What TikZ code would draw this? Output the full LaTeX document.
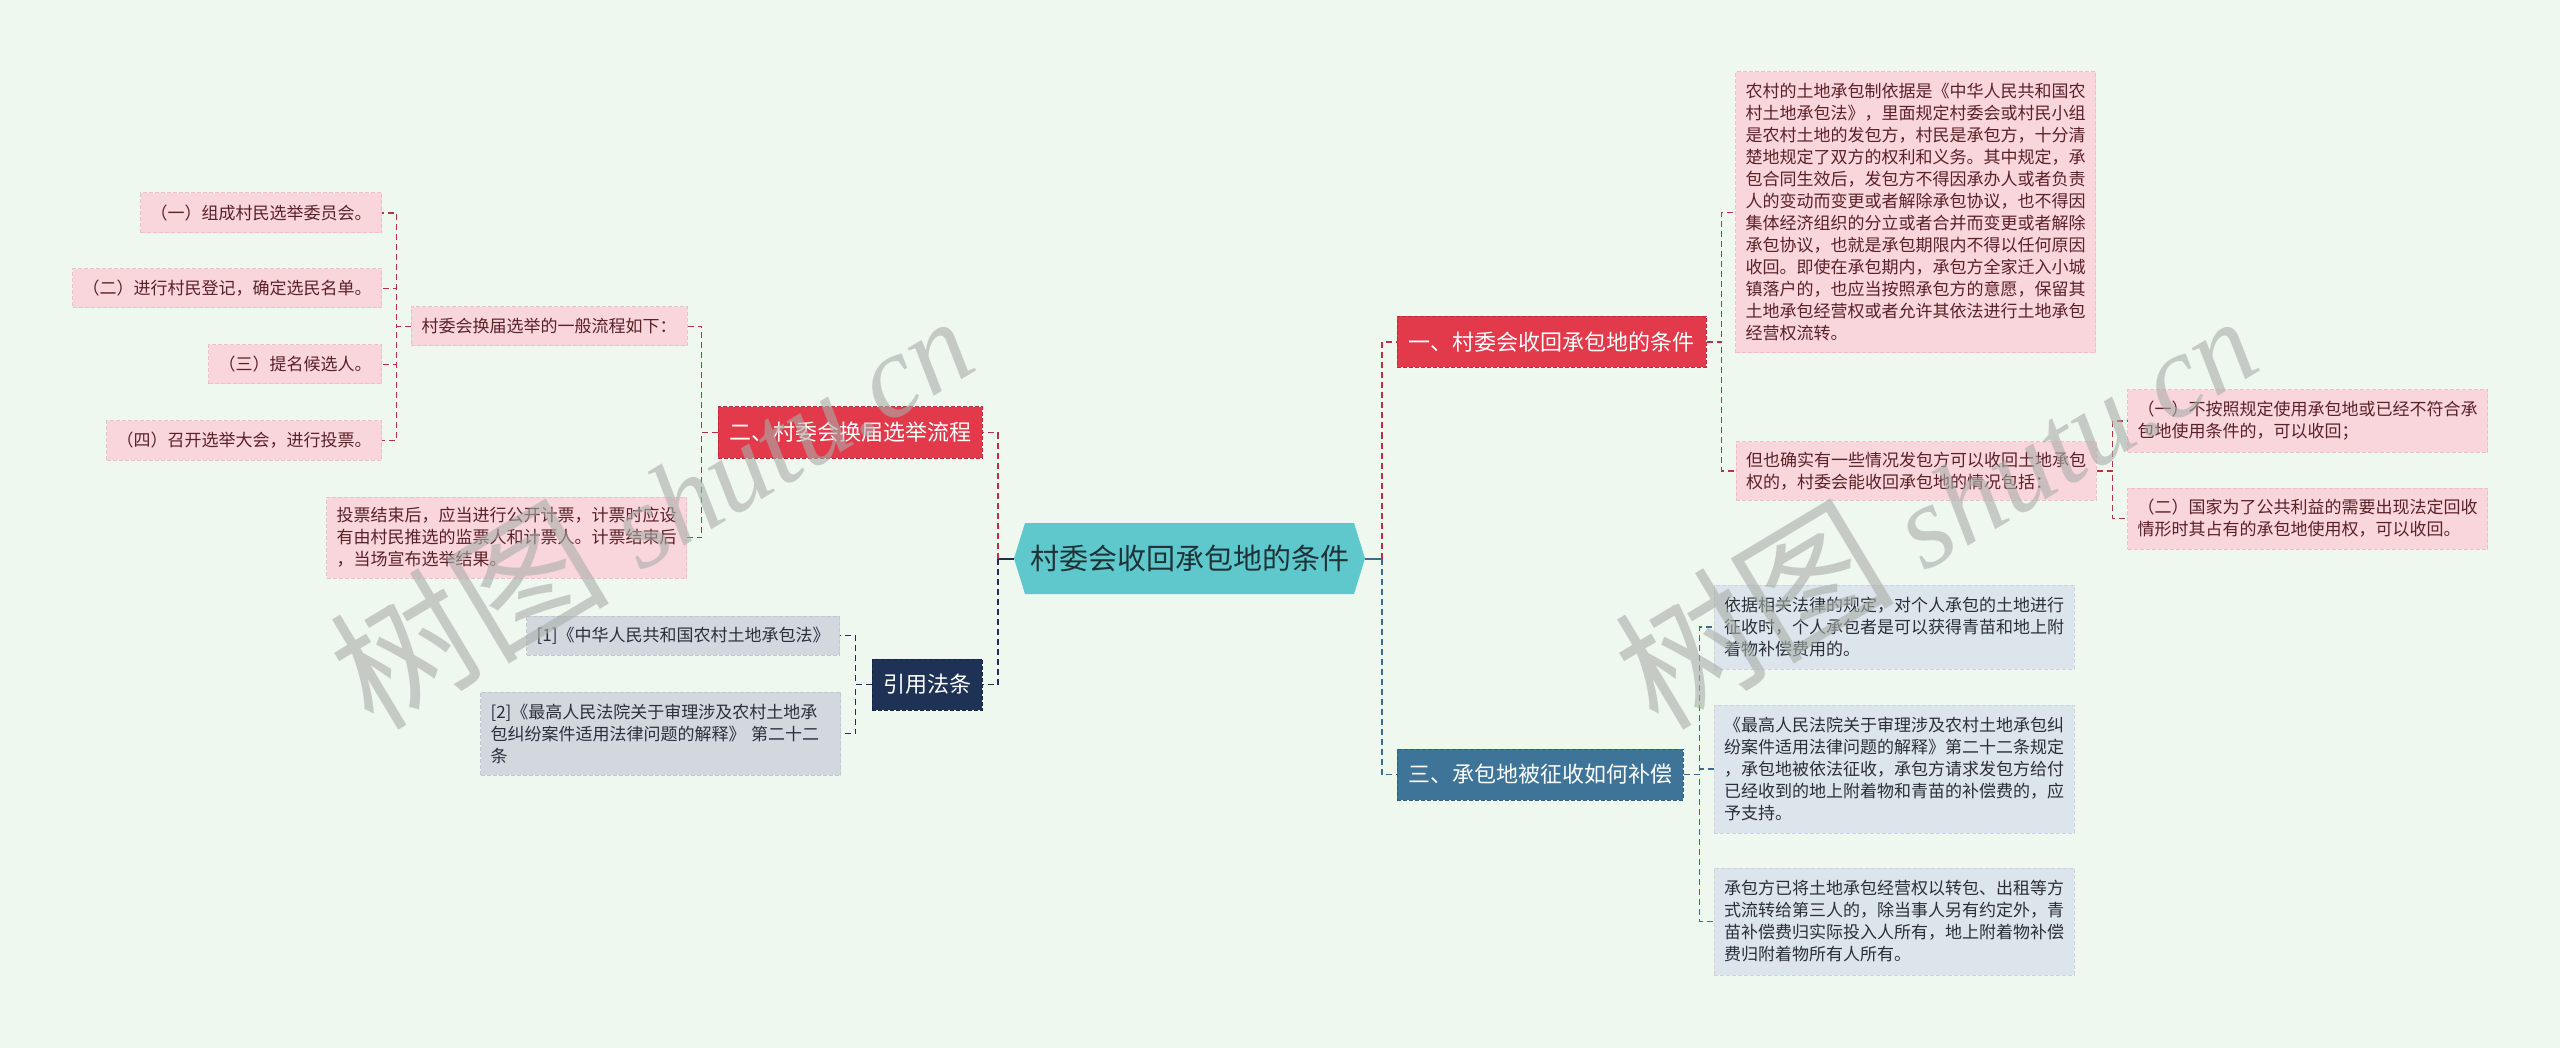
\documentclass[tikz,border=0pt]{standalone}
\usepackage{fontspec}
\setmainfont{Noto Sans CJK SC}
\newfontfamily\wmlatin{Liberation Serif}
\definecolor{bgc}{HTML}{EFF8EE}
\definecolor{pinkfill}{HTML}{F9D6DB}
\definecolor{pinkedge}{HTML}{F0BEC6}
\definecolor{pinktext}{HTML}{5A2127}
\definecolor{grayfill}{HTML}{D3D7DE}
\definecolor{grayedge}{HTML}{C3C8D0}
\definecolor{graytext}{HTML}{2B2F38}
\definecolor{bluefill}{HTML}{DCE4EC}
\definecolor{blueedge}{HTML}{CBD5DF}
\definecolor{redfill}{HTML}{E2394B}
\definecolor{rededge}{HTML}{C02A3C}
\definecolor{bmainfill}{HTML}{3F7499}
\definecolor{bmainedge}{HTML}{2F5F82}
\definecolor{navyfill}{HTML}{1E3255}
\definecolor{navyedge}{HTML}{15243F}
\definecolor{hexfill}{HTML}{5FC8CC}
\definecolor{hextext}{HTML}{1E3338}
\definecolor{redlinec}{HTML}{B83244}
\definecolor{bluelinec}{HTML}{3E6A8C}
\definecolor{navylinec}{HTML}{1E2F4F}
\definecolor{wmc}{HTML}{A9AEA9}
\newcommand\fleaf{\fontsize{17pt}{22pt}\selectfont}
\newcommand\flvone{\fontsize{22pt}{26pt}\selectfont}
\newcommand\fcentre{\fontsize{29pt}{34pt}\selectfont}
\tikzset{
  boxbase/.style={rectangle, align=left, inner xsep=10pt, inner ysep=3pt, line width=1pt, dash pattern=on 4pt off 2pt},
  pinkleaf/.style={boxbase, fill=pinkfill, draw=pinkedge, text=pinktext, font=\fleaf},
  grayleaf/.style={boxbase, fill=grayfill, draw=grayedge, text=graytext, font=\fleaf},
  blueleaf/.style={boxbase, fill=bluefill, draw=blueedge, text=graytext, font=\fleaf},
  mainbox/.style={boxbase, inner xsep=11pt, text=white, font=\flvone, minimum height=51pt},
  redmain/.style={mainbox, fill=redfill, draw=rededge},
  bluemain/.style={mainbox, fill=bmainfill, draw=bmainedge},
  navymain/.style={mainbox, fill=navyfill, draw=navyedge},
  linkbase/.style={line width=1.8pt, dash pattern=on 6pt off 4pt},
  redlink/.style={linkbase, draw=redlinec},
  bluelink/.style={linkbase, draw=bluelinec},
  navylink/.style={linkbase, draw=navylinec},
  wmark/.style={text=wmc, opacity=0.6, font=\fontsize{140pt}{140pt}\selectfont, inner sep=0pt}
}
\begin{document}
\begin{tikzpicture}[x=1pt,y=-1pt]
\useasboundingbox (0,0) rectangle (2560,1048);
\fill[bgc] (0,0) rectangle (2560,1048);

% centre hexagon
\fill[hexfill] (1025,523) -- (1354,523) -- (1365,558.5) -- (1354,594) -- (1025,594) -- (1014,558.5) -- cycle;
\node[font=\fcentre, text=hextext] (centre) at (1189.5,558.5) {村委会收回承包地的条件};
\coordinate (hexW) at (1014,558.5);
\coordinate (hexE) at (1365,558.5);
\coordinate (ltrunk) at (998,558.5);
\coordinate (rtrunk) at (1382,558.5);

% left side
\node[pinkleaf, minimum height=40pt, anchor=east] (l1) at (382,213) {（一）组成村民选举委员会。};
\node[pinkleaf, minimum height=39pt, anchor=east] (l2) at (382,288.5) {（二）进行村民登记，确定选民名单。};
\node[pinkleaf, minimum height=39pt, anchor=east] (l3) at (382,364.5) {（三）提名候选人。};
\node[pinkleaf, minimum height=39pt, anchor=east] (l4) at (382,440.5) {（四）召开选举大会，进行投票。};
\node[pinkleaf, minimum height=39pt, minimum width=276pt] (b2a) at (549,326.5) {村委会换届选举的一般流程如下：};
\node[pinkleaf, minimum height=81pt, text width=340pt] (b2b) at (506.5,537.5) {投票结束后，应当进行公开计票，计票时应设\\有由村民推选的监票人和计票人。计票结束后\\，当场宣布选举结果。};
\node[redmain, minimum width=264pt] (b2) at (850,432.5) {二、村委会换届选举流程};
\node[navymain, minimum width=110pt] (b4) at (927,684.5) {引用法条};
\node[grayleaf, minimum height=39pt, anchor=east] (r1) at (840,635.5) {[1]《中华人民共和国农村土地承包法》};
\node[grayleaf, minimum height=83pt, text width=340pt] (r2) at (660.5,733.5) {[2]《最高人民法院关于审理涉及农村土地承\\包纠纷案件适用法律问题的解释》 第二十二\\条};

% right side
\node[redmain, minimum width=309pt] (b1) at (1551.5,342) {一、村委会收回承包地的条件};
\node[bluemain, minimum width=286pt] (b3) at (1540,774.5) {三、承包地被征收如何补偿};
\node[pinkleaf, text width=340pt, minimum height=281pt] (b1a) at (1915.5,212.5) {农村的土地承包制依据是《中华人民共和国农\\村土地承包法》，里面规定村委会或村民小组\\是农村土地的发包方，村民是承包方，十分清\\楚地规定了双方的权利和义务。其中规定，承\\包合同生效后，发包方不得因承办人或者负责\\人的变动而变更或者解除承包协议，也不得因\\集体经济组织的分立或者合并而变更或者解除\\承包协议，也就是承包期限内不得以任何原因\\收回。即使在承包期内，承包方全家迁入小城\\镇落户的，也应当按照承包方的意愿，保留其\\土地承包经营权或者允许其依法进行土地承包\\经营权流转。};
\node[pinkleaf, text width=340pt, minimum height=58pt] (b1b) at (1916,471) {但也确实有一些情况发包方可以收回土地承包\\权的，村委会能收回承包地的情况包括：};
\node[pinkleaf, text width=340pt, minimum height=62pt] (b1b1) at (2307.5,421) {（一）不按照规定使用承包地或已经不符合承\\包地使用条件的，可以收回；};
\node[pinkleaf, text width=340pt, minimum height=61pt] (b1b2) at (2307.5,518.5) {（二）国家为了公共利益的需要出现法定回收\\情形时其占有的承包地使用权，可以收回。};
\node[blueleaf, text width=340pt, minimum height=84pt] (b3a) at (1894,627) {依据相关法律的规定，对个人承包的土地进行\\征收时，个人承包者是可以获得青苗和地上附\\着物补偿费用的。};
\node[blueleaf, text width=340pt, minimum height=128pt] (b3b) at (1894,769) {《最高人民法院关于审理涉及农村土地承包纠\\纷案件适用法律问题的解释》第二十二条规定\\，承包地被依法征收，承包方请求发包方给付\\已经收到的地上附着物和青苗的补偿费的，应\\予支持。};
\node[blueleaf, text width=340pt, minimum height=107pt] (b3c) at (1894,921.5) {承包方已将土地承包经营权以转包、出租等方\\式流转给第三人的，除当事人另有约定外，青\\苗补偿费归实际投入人所有，地上附着物补偿\\费归附着物所有人所有。};

% connectors
\draw[line width=2pt, navylinec] (hexW) -- (ltrunk);
\draw[line width=2pt, bluelinec] (hexE) -- (rtrunk);
\draw[redlink] (ltrunk) |- (b2.east);
\draw[navylink] (ltrunk) |- (b4.east);
\draw[redlink] (rtrunk) |- (b1.west);
\draw[bluelink] (rtrunk) |- (b3.west);
\draw[redlink] (b2.west) -- ++(-16,0) |- (b2a.east);
\draw[redlink] (b2.west) -- ++(-16,0) |- (b2b.east);
\draw[redlink] (b2a.west) -- ++(-14,0) |- (l1.east);
\draw[redlink] (b2a.west) -- ++(-14,0) |- (l2.east);
\draw[redlink] (b2a.west) -- ++(-14,0) |- (l3.east);
\draw[redlink] (b2a.west) -- ++(-14,0) |- (l4.east);
\draw[navylink] (b4.west) -- ++(-16,0) |- (r1.east);
\draw[navylink] (b4.west) -- ++(-16,0) |- (r2.east);
\draw[redlink] (b1.east) -- ++(15,0) |- (b1a.west);
\draw[redlink] (b1.east) -- ++(15,0) |- (b1b.west);
\draw[redlink] (b1b.east) -- ++(16,0) |- (b1b1.west);
\draw[redlink] (b1b.east) -- ++(16,0) |- (b1b2.west);
\draw[bluelink] (b3.east) -- ++(16,0) |- (b3a.west);
\draw[bluelink] (b3.east) -- ++(16,0) |- (b3b.west);
\draw[bluelink] (b3.east) -- ++(16,0) |- (b3c.west);

% watermarks
\node[wmark, rotate=31] (wm1) at (650,505) {树图 {\wmlatin\itshape\fontsize{118pt}{118pt}\selectfont shutu.cn}};
\node[wmark, rotate=31] (wm2) at (1934,505) {树图 {\wmlatin\itshape\fontsize{118pt}{118pt}\selectfont shutu.cn}};
\end{tikzpicture}
\end{document}
